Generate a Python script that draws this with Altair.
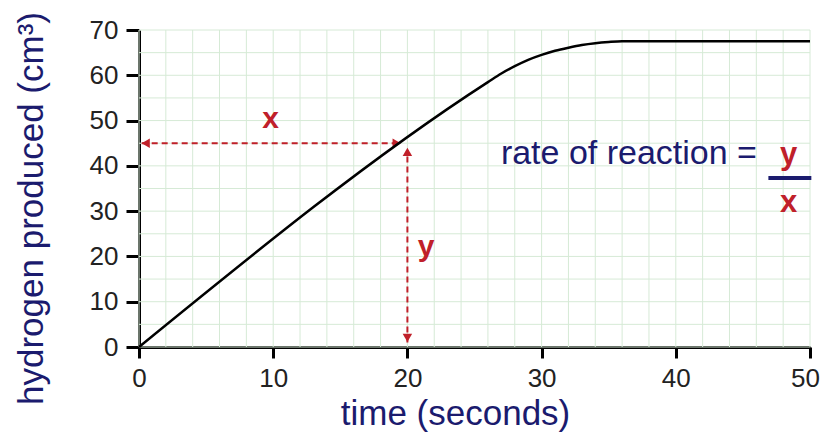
import altair as alt
import pandas as pd

# ---- data ----
time_s = [0, 26, 27, 28, 29, 30, 31, 32, 33, 34, 35, 36, 37, 50]
hydrogen = [0, 58.5, 60.4, 62.0, 63.4, 64.5, 65.4, 66.1, 66.7, 67.1, 67.35, 67.5, 67.5, 67.5]

x_ticks = [0, 10, 20, 30, 40, 50]
y_ticks = [0, 10, 20, 30, 40, 50, 60, 70]
x_grid = list(range(0, 51, 2))
y_grid = list(range(0, 71, 5))

# construction lines (x to the axis, y down to the axis)
h_line_x = [0.2, 19.4]
h_line_y = 45
v_line_x = 20
v_line_y = [1.0, 43.5]

arrow_x = [0.5, 19.2, 20, 20]
arrow_y = [45, 45, 43.1, 2.0]
arrow_shape = ["triangle-left", "triangle-right", "triangle-up", "triangle-down"]

label_text = ["x", "y"]
label_x = [9.8, 21.4]
label_y = [48.3, 20.1]

eq_text = "rate of reaction ="
eq_x = 46.05
eq_y = 40.5
frac_num_x, frac_num_y = 48.4, 40.5
frac_den_x, frac_den_y = 48.4, 29.8
frac_line_x = [46.9, 50.1]
frac_line_y = 37.3

RED = "#c0202a"
NAVY = "#1b1b6e"
GRID = "#d6ead6"
FONT = "Liberation Sans"

xs = alt.Scale(domain=[0, 50], nice=False, zero=False)
ys = alt.Scale(domain=[0, 70], nice=False, zero=False)

AX = alt.Axis(values=x_ticks, title="time (seconds)", grid=False, labelFlush=False,
              labelOffset={"condition": {"test": "datum.value == 50", "value": -5}, "value": 0},
              titleX=316, titleAlign="center", titleY=77, titleBaseline="alphabetic")
AY = alt.Axis(values=y_ticks, title="hydrogen produced (cm³)", grid=False, labelFlush=False,
              titleX=-97, titleY=178, titleBaseline="alphabetic", titleAlign="center")


def X(f):
    return alt.X(f, scale=xs, axis=AX)


def Y(f):
    return alt.Y(f, scale=ys, axis=AY)


# ---- grid ----
gx = alt.Chart(pd.DataFrame({"g": x_grid})).mark_rule(color=GRID, strokeWidth=1).encode(x=X("g:Q"))
gy = alt.Chart(pd.DataFrame({"g": y_grid})).mark_rule(color=GRID, strokeWidth=1).encode(y=Y("g:Q"))

# ---- curve ----
curve = alt.Chart(pd.DataFrame({"t": time_s, "h": hydrogen})).mark_line(
    color="black", strokeWidth=2.5, interpolate="monotone"
).encode(x=X("t:Q"), y=Y("h:Q"))

# ---- dashed construction lines ----
hline = alt.Chart(pd.DataFrame({"x1": [h_line_x[0]], "x2": [h_line_x[1]], "y": [h_line_y]})).mark_rule(
    color=RED, strokeWidth=2, strokeDash=[6, 4]
).encode(x=X("x1:Q"), x2="x2:Q", y=Y("y:Q"))

vline = alt.Chart(pd.DataFrame({"x": [v_line_x], "y1": [v_line_y[0]], "y2": [v_line_y[1]]})).mark_rule(
    color=RED, strokeWidth=2, strokeDash=[6, 4]
).encode(x=X("x:Q"), y=Y("y1:Q"), y2="y2:Q")

arrows = alt.Chart(pd.DataFrame({"x": arrow_x, "y": arrow_y, "s": arrow_shape})).mark_point(
    filled=True, color=RED, size=90, opacity=1
).encode(
    x=X("x:Q"), y=Y("y:Q"),
    shape=alt.Shape("s:N", scale=None, legend=None),
)

labels = alt.Chart(pd.DataFrame({"x": label_x, "y": label_y, "t": label_text})).mark_text(
    color=RED, font=FONT, fontSize=30, fontWeight="bold", baseline="alphabetic", align="center"
).encode(x=X("x:Q"), y=Y("y:Q"), text="t:N")

# ---- rate equation ----
eq = alt.Chart(pd.DataFrame({"x": [eq_x], "y": [eq_y], "t": [eq_text]})).mark_text(
    color=NAVY, font=FONT, fontSize=34, baseline="alphabetic", align="right"
).encode(x=X("x:Q"), y=Y("y:Q"), text="t:N")

frac = alt.Chart(pd.DataFrame({"x": [frac_num_x, frac_den_x], "y": [frac_num_y, frac_den_y], "t": ["y", "x"]})).mark_text(
    color=RED, font=FONT, fontSize=31, fontWeight="bold", baseline="alphabetic", align="center"
).encode(x=X("x:Q"), y=Y("y:Q"), text="t:N")

frac_bar = alt.Chart(pd.DataFrame({"x1": [frac_line_x[0]], "x2": [frac_line_x[1]], "y": [frac_line_y]})).mark_rule(
    color=NAVY, strokeWidth=4
).encode(x=X("x1:Q"), x2="x2:Q", y=Y("y:Q"))

chart = alt.layer(gx, gy, hline, vline, arrows, curve, labels, eq, frac, frac_bar).properties(
    width=671, height=317,
    autosize=alt.AutoSizeParams(type="none"),
    padding={"left": 131, "top": 22, "right": 10, "bottom": 86},
    background="white",
).configure_view(stroke=None).configure_axis(
    domainColor="black", domainWidth=3,
    tickColor="black", tickWidth=3,
    labelFont=FONT, labelFontSize=26, labelColor="#222222",
    titleFont=FONT, titleColor=NAVY, titleFontWeight="normal",
).configure_axisX(tickSize=11, labelPadding=7, titleFontSize=35).configure_axisY(
    tickSize=13, labelPadding=8, titleFontSize=35)

chart.save("out.html", embed_options={"renderer": "svg", "actions": False})
